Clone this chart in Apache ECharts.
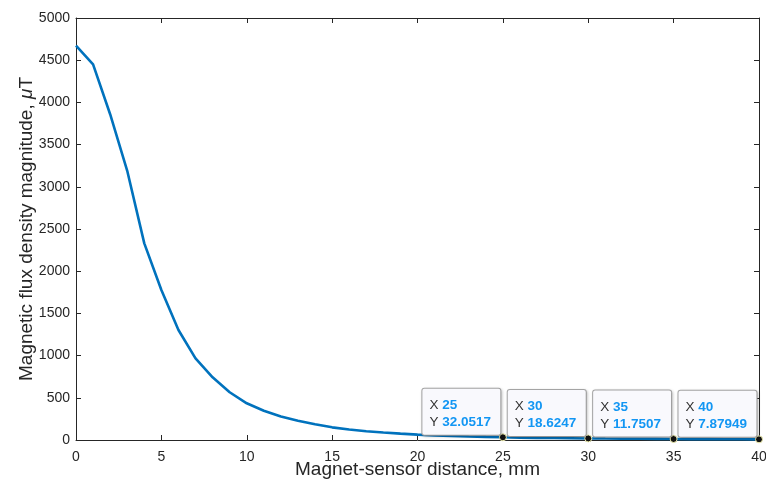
<!DOCTYPE html>
<html>
<head>
<meta charset="utf-8">
<script src="https://cdn.jsdelivr.net/npm/echarts@6/dist/echarts.min.js"></script>
<style>html,body{margin:0;padding:0;background:#fff;}#c{width:766px;height:486px;}</style>
</head>
<body>
<div id="c"></div>
<script>
const distances = [0,1,2,3,4,5,6,7,8,9,10,11,12,13,14,15,16,17,18,19,20,21,22,23,24,25,26,27,28,29,30,31,32,33,34,35,36,37,38,39,40];
const fluxValues = [4672,4451,3860,3190,2330,1777,1303,968,743,566,435,347,278,229,186,150,124,104,88,75,64,55,48,42,36.8,32.0517,28.5,25.5,22.9,20.6,18.6247,16.9,15.4,14.0,12.8,11.7507,10.8,10.0,9.2,8.5,7.87949];
const tipX = [25,30,35,40];
const tipY = [32.0517,18.6247,11.7507,7.87949];
const tipYText = ['32.0517','18.6247','11.7507','7.87949'];
const xTicks = {min:0, max:40, interval:5};
const yTicks = {min:0, max:5000, interval:500};

const FONT = '"Liberation Sans", Arial, Helvetica, sans-serif';
const AX = '#262626';
const chart = echarts.init(document.getElementById('c'), null, {renderer:'canvas'});

const baseX = {
  type:'value', min:xTicks.min, max:xTicks.max, interval:xTicks.interval,
  axisLine:{show:true, onZero:false, lineStyle:{color:AX, width:1}},
  axisTick:{show:true, inside:true, length:5, lineStyle:{color:AX}},
  splitLine:{show:false}
};
const baseY = {
  type:'value', min:yTicks.min, max:yTicks.max, interval:yTicks.interval,
  axisLine:{show:true, onZero:false, lineStyle:{color:AX, width:1}},
  axisTick:{show:true, inside:true, length:5, lineStyle:{color:AX}},
  splitLine:{show:false}
};

chart.setOption({
  animation:false,
  backgroundColor:'#fff',
  grid:{left:76, right:7, top:18, bottom:46, containLabel:false, outerBoundsMode:'none'},
  xAxis:[
    Object.assign({}, baseX, {
      position:'bottom',
      name:'Magnet-sensor distance, mm', nameLocation:'middle', nameGap:20, nameMoveOverlap:false,
      nameTextStyle:{fontFamily:FONT, fontSize:19, color:AX, verticalAlign:'top'},
      axisLabel:{show:true, margin:10, fontFamily:FONT, fontSize:14, color:AX, formatter:v=>String(v)}
    }),
    Object.assign({}, baseX, {position:'top', axisLabel:{show:false}})
  ],
  yAxis:[
    Object.assign({}, baseY, {
      position:'left',
      name:'Magnetic flux density magnitude, {i|\u03bc}T', nameLocation:'middle', nameGap:40, nameMoveOverlap:false,
      nameTextStyle:{fontFamily:FONT, fontSize:19, color:AX,
        rich:{i:{fontFamily:FONT, fontSize:19, fontStyle:'italic', color:AX}}},
      axisLabel:{show:true, margin:6, fontFamily:FONT, fontSize:14, color:AX, formatter:v=>String(v)}
    }),
    Object.assign({}, baseY, {position:'right', axisLabel:{show:false}})
  ],
  series:[
    {
      type:'line', xAxisIndex:0, yAxisIndex:0,
      data: distances.map((d,i)=>[d, fluxValues[i]]),
      showSymbol:false, symbol:'none',
      lineStyle:{color:'#0072BD', width:2.6},
      z:2
    },
    {
      type:'scatter', xAxisIndex:0, yAxisIndex:0,
      data: tipX.map((d,i)=>({value:[d, tipY[i]]})),
      symbol:'circle', symbolSize:7,
      itemStyle:{color:'#111', borderColor:'#f2f0b0', borderWidth:1, opacity:1},
      label:{
        show:true,
        position:[-76.5,-44.5],
        width:64,
        padding:[8,7,4,7],
        backgroundColor:'#f9f9fd',
        borderColor:'#a8a8a8', borderWidth:1, borderRadius:2,
        shadowColor:'rgba(0,0,0,0.18)', shadowBlur:3, shadowOffsetX:1, shadowOffsetY:1,
        lineHeight:17,
        formatter:function(p){
          return '{k|X }{v|'+tipX[p.dataIndex]+'}\n{k|Y }{v|'+tipYText[p.dataIndex]+'}';
        },
        rich:{
          k:{fontFamily:FONT, fontSize:13.5, color:'#333', lineHeight:17},
          v:{fontFamily:FONT, fontSize:13.5, fontWeight:'bold', color:'#1296f3', lineHeight:17}
        }
      },
      z:5
    }
  ]
});
</script>
</body>
</html>
